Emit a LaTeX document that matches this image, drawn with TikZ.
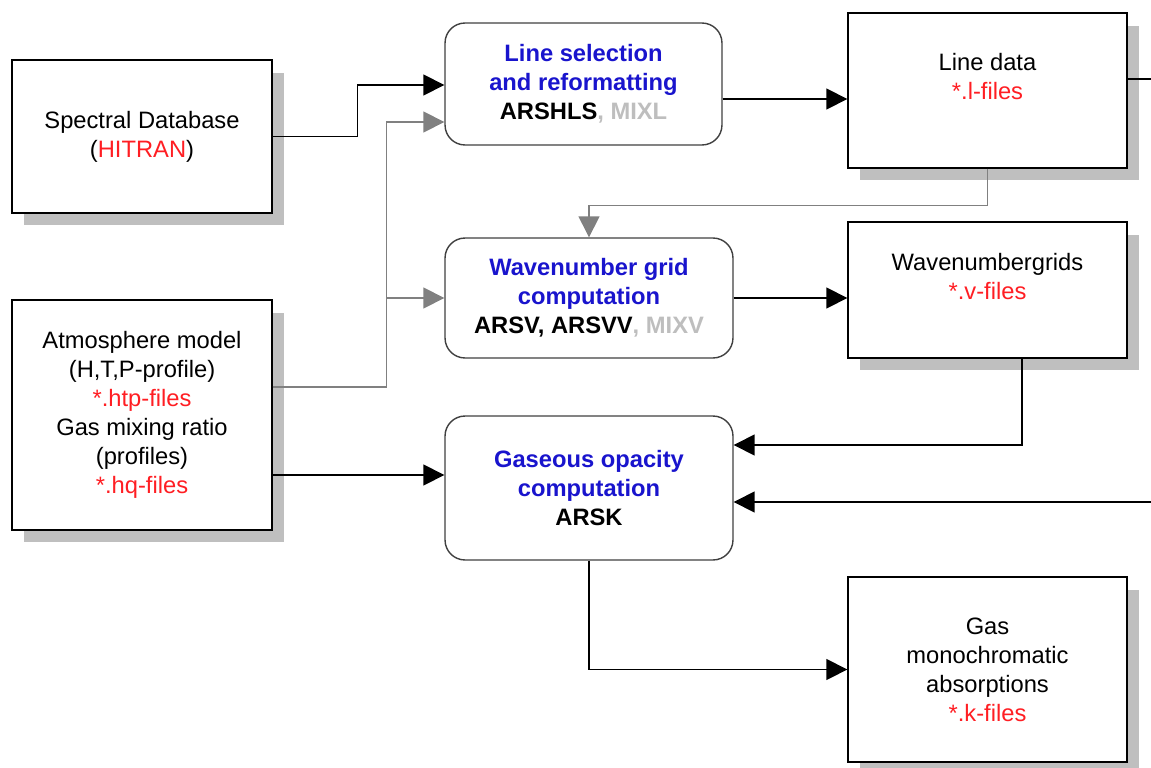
\documentclass[tikz,border=0pt]{standalone}
\usepackage{fontspec}
\setmainfont{Liberation Sans}
\usetikzlibrary{arrows.meta, calc, positioning, shadows}
\definecolor{fred}{RGB}{255,30,35}
\definecolor{fblue}{RGB}{25,20,205}
\definecolor{fgray}{RGB}{190,190,190}
\definecolor{lgray}{RGB}{128,128,128}

\begin{document}
\begin{tikzpicture}[x=0.02cm, y=-0.02cm,
        every node/.style={font=\fontsize{13.5}{16.5}\selectfont, align=center},
        filebox/.style={draw=black, line width=0.8pt, fill=white, minimum width=5.58cm,
            drop shadow={shadow xshift=0.24cm, shadow yshift=-0.25cm, opacity=1, fill=black!25}},
        procbox/.style={draw=black!75, line width=0.8pt, fill=white, rounded corners=0.4cm,
            font=\fontsize{13.5}{16.5}\selectfont\bfseries},
        arr/.style={draw=black, line width=0.8pt, -{Triangle[length=0.42cm, width=0.42cm]}},
        grayarr/.style={arr, draw=lgray, -{Triangle[length=0.42cm, width=0.42cm, fill=lgray]}}]
    \useasboundingbox (0,0) rectangle (1151,767);

    % input files
    \node[filebox, minimum width=5.2cm, minimum height=3.06cm] (spec) at (142,136.5)
        {Spectral Database\\(\textcolor{fred}{HITRAN})};
    \node[filebox, minimum width=5.2cm, minimum height=4.6cm] (atm) at (142,415)
        {Atmosphere model\\(H,T,P-profile)\\\textcolor{fred}{*.htp-files}\\Gas mixing ratio\\(profiles)\\\textcolor{fred}{*.hq-files}};

    % programs
    \node[procbox, minimum width=5.54cm, minimum height=2.44cm] (linesel) at (583.5,84)
        {\textcolor{fblue}{Line selection}\\\textcolor{fblue}{and reformatting}\\ARSHLS\textcolor{fgray}{, MIXL}};
    \node[procbox, minimum width=5.76cm, minimum height=2.4cm] (wgrid) at (589,298)
        {\textcolor{fblue}{Wavenumber grid}\\\textcolor{fblue}{computation}\\ARSV, ARSVV\textcolor{fgray}{, MIXV}};
    \node[procbox, minimum width=5.76cm, minimum height=2.88cm] (gasop) at (589,488)
        {\textcolor{fblue}{Gaseous opacity}\\\textcolor{fblue}{computation}\\ARSK};

    % output files
    \node[filebox, minimum height=3.1cm] (ldata) at (987.5,90.5) {};
    \node (ldatatxt) at (987.5,77) {Line data\\\textcolor{fred}{*.l-files}};
    \node[filebox, minimum height=2.72cm] (wgrids) at (987.5,290) {};
    \node (wgridstxt) at (987.5,276.5) {Wavenumbergrids\\\textcolor{fred}{*.v-files}};
    \node[filebox, minimum height=3.7cm] (gasabs) at (987.5,669.5)
        {Gas\\monochromatic\\absorptions\\\textcolor{fred}{*.k-files}};

    \coordinate (atmup) at ($(atm.east)+(0,-28)$);
    \coordinate (atmlow) at ($(atm.east)+(0,60)$);
    \coordinate (lsout) at ($(linesel.east)+(0,15)$);
    \coordinate (ldout) at ($(ldata.east)+(0,-11.5)$);
    \coordinate (wgsout) at ($(wgrids.south)+(34.5,0)$);
    \coordinate (gin1) at ($(gasop.east)+(0,-43)$);
    \coordinate (gin2) at ($(gasop.east)+(0,14)$);
    \coordinate (rin) at (1160,502);

    \draw[arr] (spec.east) -- ++(85,0) |- ($(linesel.west)+(0,1)$);
    \draw[grayarr] (atmup) -- ++(114,0) |- ($(linesel.west)+(0,38)$);
    \draw[grayarr] ($(atmup)+(114,0)$) |- (wgrid.west);
    \draw[arr] (atmlow) -- (atmlow -| gasop.west);
    \draw[arr] (lsout) -- (lsout -| ldata.west);
    \draw[line width=0.8pt] (ldout) -- ++(40,0);
    \draw[grayarr] (ldata.south) -- ++(0,37) -| (wgrid.north);
    \draw[arr] (wgrid.east) -- (wgrid.east -| wgrids.west);
    \draw[arr] (wgsout) |- (gin1);
    \draw[arr] (rin) -- (gin2);
    \draw[arr] (gasop.south) |- (gasabs.west);
\end{tikzpicture}
\end{document}
